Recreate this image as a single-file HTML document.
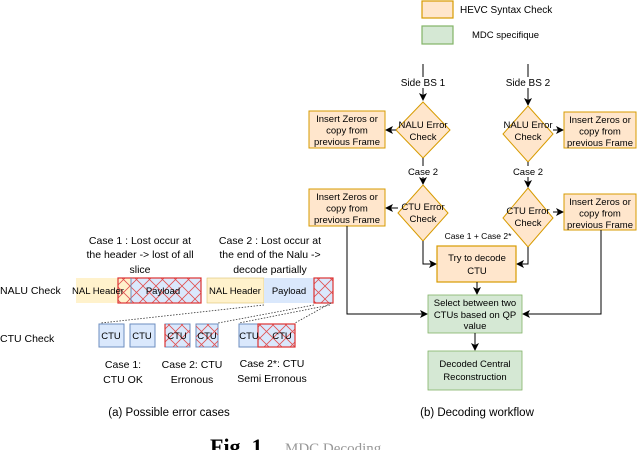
<!DOCTYPE html>
<html><head><style>body{margin:0;background:#fff}svg{display:block}</style></head><body>
<svg width="640" height="450" viewBox="0 0 640 450" xmlns="http://www.w3.org/2000/svg" font-family="Liberation Sans, sans-serif">
<defs>
<marker id="a" markerWidth="8" markerHeight="8" refX="7" refY="4" orient="auto" markerUnits="userSpaceOnUse"><path d="M0,0 L8,4 L0,8 L2,4 z" fill="#000"/></marker>
<pattern id="x" width="13" height="13" patternUnits="userSpaceOnUse"><path d="M0,0L13,13M13,0L0,13" stroke="#e05050" stroke-width="0.8"/></pattern>
</defs>
<rect x="422" y="1" width="31" height="17" fill="#ffe6cc" stroke="#d79b00" stroke-width="1.2"/>
<rect x="422" y="26" width="31" height="18" fill="#d5e8d4" stroke="#82b366" stroke-width="1.2"/>
<text x="460" y="13" font-size="10">HEVC Syntax Check</text>
<text x="472" y="38" font-size="9.5">MDC specifique</text>
<g font-size="9.5" text-anchor="middle">
<line x1="423" y1="64" x2="423" y2="100" stroke="#000" marker-end="url(#a)"/>
<rect x="398" y="77" width="50" height="11" fill="#fff"/><text x="423" y="86" font-size="10">Side BS 1</text>
<polygon points="423,102 450,130 423,158 396,130" fill="#ffe6cc" stroke="#d79b00"/>
<text x="423" y="128">NALU Error</text><text x="423" y="140">Check</text>
<line x1="396" y1="130" x2="386" y2="130" stroke="#000" marker-end="url(#a)"/>
<rect x="309" y="111" width="76" height="37" fill="#ffe6cc" stroke="#d79b00"/>
<text x="347" y="122">Insert Zeros or</text><text x="347" y="133.5">copy from</text><text x="347" y="145">previous Frame</text>
<line x1="423" y1="158" x2="423" y2="184" stroke="#000" marker-end="url(#a)"/>
<rect x="405" y="166" width="36" height="11" fill="#fff"/><text x="423" y="175">Case 2</text>
<polygon points="423,185 448,213 423,241 398,213" fill="#ffe6cc" stroke="#d79b00"/>
<text x="423" y="210">CTU Error</text><text x="423" y="222">Check</text>
<line x1="398" y1="208" x2="386" y2="208" stroke="#000" marker-end="url(#a)"/>
<rect x="309" y="189" width="76" height="37" fill="#ffe6cc" stroke="#d79b00"/>
<text x="347" y="200">Insert Zeros or</text><text x="347" y="211.5">copy from</text><text x="347" y="223">previous Frame</text>
<line x1="528" y1="64" x2="528" y2="105" stroke="#000" marker-end="url(#a)"/>
<rect x="503" y="77" width="50" height="11" fill="#fff"/><text x="528" y="86" font-size="10">Side BS 2</text>
<polygon points="528,106 553,134 528,162 503,134" fill="#ffe6cc" stroke="#d79b00"/>
<text x="528" y="128">NALU Error</text><text x="528" y="140">Check</text>
<line x1="553" y1="130" x2="563" y2="130" stroke="#000" marker-end="url(#a)"/>
<rect x="564" y="112" width="72" height="36" fill="#ffe6cc" stroke="#d79b00"/>
<text x="600" y="123">Insert Zeros or</text><text x="600" y="134.5">copy from</text><text x="600" y="146">previous Frame</text>
<line x1="528" y1="162" x2="528" y2="187" stroke="#000" marker-end="url(#a)"/>
<rect x="510" y="166" width="36" height="11" fill="#fff"/><text x="528" y="175">Case 2</text>
<polygon points="528,188 553,218 528,247 503,218" fill="#ffe6cc" stroke="#d79b00"/>
<text x="528" y="214">CTU Error</text><text x="528" y="226">Check</text>
<line x1="553" y1="212" x2="563" y2="212" stroke="#000" marker-end="url(#a)"/>
<rect x="564" y="194" width="72" height="36" fill="#ffe6cc" stroke="#d79b00"/>
<text x="600" y="205">Insert Zeros or</text><text x="600" y="216.5">copy from</text><text x="600" y="228">previous Frame</text>
<text x="478" y="239" font-size="8.5">Case 1 + Case 2*</text>
<polyline points="423,241 423,264 436,264" fill="none" stroke="#000" marker-end="url(#a)"/>
<polyline points="528,247 528,264 517,264" fill="none" stroke="#000" marker-end="url(#a)"/>
<rect x="437" y="246" width="79" height="36" fill="#ffe6cc" stroke="#d79b00" stroke-width="1.2"/>
<text x="477" y="261">Try to decode</text><text x="477" y="274">CTU</text>
<line x1="477" y1="282" x2="477" y2="294" stroke="#000" marker-end="url(#a)"/>
<polyline points="347,226 347,314 427,314" fill="none" stroke="#000" marker-end="url(#a)"/>
<polyline points="601,230 601,314 523,314" fill="none" stroke="#000" marker-end="url(#a)"/>
<rect x="428" y="295" width="94" height="38" fill="#d5e8d4" stroke="#82b366" stroke-width="0.8"/>
<text x="475" y="306">Select between two</text><text x="475" y="318">CTUs based on QP</text><text x="475" y="329">value</text>
<line x1="475" y1="333" x2="475" y2="350" stroke="#000" marker-end="url(#a)"/>
<rect x="428" y="351" width="94" height="39" fill="#d5e8d4" stroke="#82b366" stroke-width="0.8"/>
<text x="475" y="367" font-size="9.5">Decoded Central</text><text x="475" y="380" font-size="9.5">Reconstruction</text>
<text x="477" y="416" font-size="11.5">(b) Decoding workflow</text>
<g font-size="10.5">
<text x="140" y="244">Case 1 : Lost occur at</text><text x="140" y="258">the header  -&gt; lost of all</text><text x="140" y="273">slice</text>
<text x="270" y="244">Case 2 : Lost occur at</text><text x="270" y="258">the end of the Nalu -&gt;</text><text x="270" y="273">decode partially</text>
</g>
<text x="0" y="294" font-size="10.5" text-anchor="start">NALU Check</text>
<text x="0" y="342" font-size="10.5" text-anchor="start">CTU Check</text>
<rect x="76" y="278" width="55" height="25" fill="#fff2cc"/>
<rect x="131" y="278" width="70" height="25" fill="#dae8fc"/>
<rect x="118" y="278" width="83" height="25" fill="url(#x)" stroke="#d33" stroke-width="1.2"/>
<line x1="131" y1="278" x2="131" y2="303" stroke="#6c8ebf"/>
<text x="98" y="294" font-size="9.5">NAL Header</text><text x="163" y="294" font-size="9.5">Payload</text>
<rect x="207" y="278" width="57" height="25" fill="#fff2cc" stroke="#d6b656" stroke-width="0.5"/>
<rect x="264" y="278" width="50" height="25" fill="#dae8fc"/>
<rect x="314" y="278" width="19" height="25" fill="#dae8fc"/>
<rect x="314" y="278" width="19" height="25" fill="url(#x)" stroke="#d33" stroke-width="1.2"/>
<text x="235" y="294" font-size="9.5">NAL Header</text><text x="289" y="294" font-size="9.5">Payload</text>
<g stroke="#333" stroke-width="0.8" stroke-dasharray="1.5,1.5">
<line x1="264" y1="305" x2="101" y2="323"/><line x1="314" y1="305" x2="218" y2="323"/>
<line x1="331" y1="303" x2="295" y2="323"/><line x1="330" y1="305" x2="239" y2="323"/>
</g>
<g stroke="#6c8ebf">
<rect x="99" y="324" width="25" height="23" fill="#dae8fc"/>
<rect x="130" y="324" width="25" height="23" fill="#dae8fc"/>
<rect x="165" y="324" width="25" height="23" fill="#dae8fc"/>
<rect x="196" y="324" width="22" height="23" fill="#dae8fc"/>
<rect x="239" y="324" width="56" height="23" fill="#dae8fc"/>
</g>
<rect x="165" y="324" width="25" height="23" fill="url(#x)"/>
<rect x="196" y="324" width="22" height="23" fill="url(#x)"/>
<rect x="258" y="324" width="37" height="23" fill="url(#x)" stroke="#d33" stroke-width="1.2"/>
<line x1="165" y1="324" x2="165" y2="347" stroke="#d33" stroke-width="1.2"/>
<g font-size="9.5"><text x="111" y="339">CTU</text><text x="142" y="339">CTU</text><text x="177" y="339">CTU</text><text x="207" y="339">CTU</text><text x="249" y="339">CTU</text><text x="282" y="339">CTU</text></g>
<g font-size="10.5">
<text x="123" y="368">Case 1:</text><text x="123" y="383">CTU OK</text>
<text x="192" y="368">Case 2: CTU</text><text x="192" y="383">Erronous</text>
<text x="272" y="367">Case 2*: CTU</text><text x="272" y="382">Semi Erronous</text>
</g>
<text x="169" y="416" font-size="11.5">(a) Possible error cases</text>
</g>
<text x="210" y="454" font-family="Liberation Serif, serif" font-size="22" font-weight="bold">Fig. 1</text>
<text x="285" y="453" font-family="Liberation Serif, serif" font-size="15" fill="#999">MDC Decoding</text>
</svg>
</body></html>
